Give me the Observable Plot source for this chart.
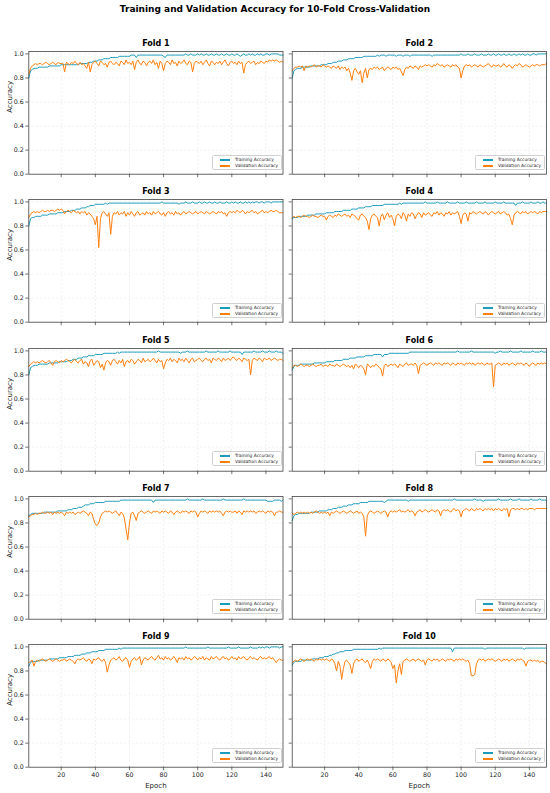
<!DOCTYPE html>
<html><head><meta charset="utf-8">
<script src="https://cdn.jsdelivr.net/npm/d3@7"></script>
<script src="https://cdn.jsdelivr.net/npm/@observablehq/plot@0.6"></script>
<style>
body{margin:0;background:#fff;}
#fig{position:relative;width:550px;height:793px;font-family:"DejaVu Sans",sans-serif;overflow:hidden;}
#title{position:absolute;left:0;width:550px;top:4px;text-align:center;font-weight:bold;font-size:9px;color:#000;}
.panel{position:absolute;}
.legend{position:absolute;width:70px;height:15px;border:0.6px solid #d0d0d0;border-radius:1.5px;background:rgba(255,255,255,0.85);font-size:4.4px;box-sizing:border-box;color:#222;}
.lg{position:absolute;left:0;width:70px;height:6px;}
.lg .sw{position:absolute;left:7px;top:2px;width:10px;height:1.5px;}
.lg .tx{position:absolute;left:22px;top:0;line-height:6px;white-space:nowrap;}
</style></head>
<body>
<div id="fig"><div id="title">Training and Validation Accuracy for 10-Fold Cross-Validation</div></div>
<script>
const FOLD_NAMES = ["Fold 1","Fold 2","Fold 3","Fold 4","Fold 5","Fold 6","Fold 7","Fold 8","Fold 9","Fold 10"];
const X_TICKS = [20,40,60,80,100,120,140];
const Y_TICKS = [0,0.2,0.4,0.6,0.8,1.0];
const SERIES_NAMES = ["Training Accuracy","Validation Accuracy"];
const COLORS = ["#1b9cba","#ff7f0e"];

// accuracy values in percent, epochs 1..150
const T1 = [80,86,87,88,88,88,89,89,89,89,
89,89,90,90,90,90,90,90,90,91,
91,91,91,91,91,91,91,91,91,91,
92,92,92,92,92,93,93,93,94,94,
94,95,95,95,96,96,96,96,97,97,
97,97,97,98,98,98,98,98,98,98,
99,99,99,97,99,99,99,99,99,99,
99,99,99,99,99,99,99,99,99,98,
97,99,99,99,99,99,99,99,99,99,
99,99,100,99,99,100,99,99,99,100,
99,100,99,99,100,99,99,100,99,99,
100,99,99,100,99,99,100,99,99,100,
99,99,100,99,98,99,100,99,99,100,
99,100,99,99,100,99,100,99,99,100,
100,99,100,100,100,100,100,99,99,99];
const V1 = [83,88,90,91,92,91,92,92,91,92,
93,92,91,92,93,92,91,93,92,92,
92,85,93,92,91,93,92,94,92,91,
93,91,92,90,88,93,85,91,93,94,
92,90,94,93,91,92,89,93,94,92,
91,93,92,90,94,93,91,95,92,93,
91,94,87,93,95,92,91,94,93,90,
93,94,92,95,91,93,88,94,92,86,
92,94,93,91,95,92,93,90,94,92,
93,95,92,91,94,93,85,92,94,93,
92,94,91,93,95,92,90,94,93,91,
93,92,94,91,93,95,92,90,93,94,
92,93,91,94,92,93,84,91,93,94,
92,93,94,91,93,92,94,93,92,94,
93,95,94,95,94,95,94,93,94,93];
const T2 = [80,86,87,88,88,88,89,89,89,89,
89,90,90,90,90,90,90,91,91,91,
91,92,92,92,93,93,93,94,94,94,
95,95,95,96,96,96,96,97,97,97,
97,97,98,98,98,98,98,98,98,98,
99,98,99,99,99,98,99,99,99,99,
99,98,99,99,99,98,99,99,99,98,
99,99,99,99,99,99,99,99,99,99,
99,99,98,99,99,99,99,99,99,99,
99,99,99,99,99,99,99,99,99,100,
99,99,99,100,99,99,99,100,99,99,
99,100,99,99,99,100,99,99,100,99,
99,100,99,99,100,99,99,100,99,99,
100,99,99,100,99,100,99,99,100,99,
99,100,100,99,100,100,100,100,100,100];
const V2 = [86,88,89,89,90,89,90,86,90,89,
90,89,90,91,89,90,90,89,91,90,
89,90,89,88,90,89,88,90,87,89,
88,89,86,88,84,78,86,88,85,83,
86,76,84,88,80,87,88,87,89,88,
89,87,88,89,86,88,89,88,87,89,
88,89,87,88,85,82,87,89,88,90,
89,88,90,89,87,90,89,90,91,90,
91,90,89,91,90,92,91,90,91,89,
90,91,90,89,91,90,91,89,88,80,
86,90,91,90,91,89,90,91,90,89,
91,90,89,90,91,92,90,89,91,90,
90,91,89,90,92,90,89,91,90,88,
90,91,90,92,91,89,90,91,90,89,
90,91,90,91,91,90,91,91,91,92];
const T3 = [80,86,87,87,88,88,88,88,89,89,
89,89,90,90,90,90,90,91,91,91,
91,92,92,92,92,93,93,93,94,94,
94,95,95,95,96,96,97,97,97,98,
98,98,98,98,98,99,98,99,99,99,
99,99,99,99,99,99,99,99,99,99,
99,99,99,99,99,99,99,99,99,99,
99,99,99,99,99,99,99,99,100,99,
99,99,99,99,99,99,99,99,98,99,
99,99,100,99,99,99,100,99,99,99,
100,99,99,100,99,99,100,99,99,100,
99,99,100,99,99,99,100,99,99,100,
99,100,99,99,100,99,99,100,99,100,
99,100,99,100,100,99,100,100,99,100,
100,100,99,100,100,100,100,100,100,100];
const V3 = [87,90,91,92,91,92,91,92,93,92,
92,93,92,93,93,92,93,94,93,94,
93,90,92,93,92,91,93,92,91,92,
90,92,91,92,89,91,90,88,86,81,
88,62,86,91,92,90,88,91,73,88,
91,90,92,89,91,90,92,88,91,89,
92,90,88,91,92,89,90,91,89,92,
90,91,89,92,90,91,92,90,89,91,
88,91,92,90,91,89,92,90,91,89,
91,92,90,91,92,91,90,91,92,90,
91,92,91,90,92,91,90,91,92,91,
90,92,91,92,90,91,88,91,92,91,
92,91,93,92,91,93,92,90,92,91,
92,93,91,92,90,91,92,93,91,92,
91,92,93,92,92,93,92,91,91,91];
const T4 = [86,87,87,87,88,88,88,88,88,89,
89,89,89,89,90,90,90,90,90,90,
91,91,91,91,91,92,92,92,92,92,
93,93,93,93,93,94,94,94,94,95,
95,95,95,96,96,96,96,97,97,97,
97,97,97,97,98,98,98,98,98,98,
98,98,98,99,98,99,99,99,99,99,
99,99,99,99,99,99,99,99,100,99,
99,99,99,99,99,100,99,99,99,99,
99,100,99,99,99,99,99,100,99,99,
99,99,100,99,99,99,99,99,100,99,
99,99,99,100,99,99,99,99,99,100,
99,99,99,99,100,99,99,99,99,99,
99,97,99,99,99,100,99,99,99,99,
100,99,99,99,100,99,99,100,99,99];
const V4 = [87,88,87,88,88,87,88,89,88,88,
87,88,89,88,88,87,88,89,88,88,
85,88,89,88,87,89,88,90,89,88,
89,90,88,89,87,90,89,88,86,85,
89,90,88,87,84,77,86,89,90,88,
87,80,88,90,85,89,91,87,89,86,
80,88,90,89,86,91,89,84,90,88,
91,90,86,89,91,90,87,91,89,90,
91,89,88,91,90,92,89,91,90,88,
91,90,92,89,91,90,91,92,88,82,
89,91,90,84,91,90,92,91,90,91,
92,91,90,92,91,89,91,92,91,90,
91,92,90,91,92,91,89,90,86,81,
89,91,92,91,90,92,91,92,90,91,
92,91,92,91,90,92,91,92,92,92];
const T5 = [80,86,87,88,88,88,89,89,89,89,
89,89,90,90,90,90,90,90,91,91,
91,91,91,92,92,92,93,93,93,94,
94,94,95,95,95,96,96,96,96,97,
97,97,97,97,98,98,98,98,98,98,
98,98,99,98,99,99,99,99,99,99,
99,99,99,99,99,99,99,99,99,99,
99,99,99,99,99,99,100,99,99,99,
99,99,99,99,99,99,99,99,99,98,
99,99,99,100,99,99,99,99,99,99,
99,99,99,99,100,99,99,99,99,99,
99,100,99,99,99,99,99,99,100,99,
99,99,99,99,99,97,99,99,99,99,
99,99,100,99,99,99,99,100,99,99,
99,100,99,99,99,100,99,99,99,98];
const V5 = [87,89,90,91,90,91,90,91,92,91,
90,91,92,90,88,91,92,91,90,92,
91,92,93,92,91,90,92,93,91,90,
92,93,89,91,90,87,92,93,88,90,
92,91,86,89,84,90,92,91,88,92,
93,91,89,92,90,93,87,91,92,90,
93,92,89,91,93,92,90,94,91,92,
93,91,92,94,92,90,93,91,92,85,
90,93,92,94,91,93,92,90,94,92,
93,91,94,92,90,93,94,91,92,93,
94,92,91,93,94,92,93,90,94,93,
92,94,93,91,94,92,93,94,92,94,
95,93,92,94,93,91,94,93,92,93,
80,92,94,93,92,94,93,91,94,93,
93,94,92,93,94,93,92,93,93,92];
const T6 = [84,87,88,88,88,89,89,89,89,89,
89,89,89,90,90,90,90,90,90,90,
91,91,91,91,91,92,92,92,92,92,
93,93,93,93,94,94,94,94,95,95,
95,95,95,96,96,96,96,96,97,97,
97,97,97,95,97,97,97,98,98,98,
98,98,98,98,98,98,98,98,98,99,
99,99,99,99,99,99,99,99,99,99,
99,99,99,99,99,99,99,99,99,99,
99,99,99,99,99,99,99,100,99,99,
99,99,99,99,99,100,99,99,99,99,
99,99,99,99,99,99,99,99,99,98,
99,99,100,99,99,99,99,99,100,99,
99,99,99,99,100,99,99,99,99,99,
99,100,99,99,99,99,100,99,99,99];
const V6 = [86,88,88,87,88,89,88,87,88,88,
87,88,89,88,87,88,88,89,87,88,
88,87,89,88,88,87,89,88,87,88,
89,88,87,88,86,88,85,89,88,86,
88,87,85,80,89,88,86,88,87,89,
88,86,85,79,88,89,87,88,89,88,
89,88,86,89,88,87,89,90,88,89,
89,88,90,88,81,88,89,90,89,88,
89,90,89,88,90,89,90,89,88,90,
89,90,89,88,90,89,88,90,89,90,
89,88,90,89,90,89,90,88,89,90,
89,90,89,88,90,89,89,90,70,88,
89,90,89,88,90,89,90,88,89,90,
89,88,90,89,90,89,88,90,89,87,
89,90,89,88,90,89,90,89,90,89];
const T7 = [86,87,88,88,88,88,88,88,88,89,
89,89,89,89,89,89,89,90,90,90,
90,90,90,91,91,91,92,92,92,93,
93,93,94,95,95,95,96,96,96,97,
97,97,97,97,97,98,98,98,98,98,
98,98,98,98,99,99,99,99,99,99,
99,99,99,99,99,99,99,99,99,99,
99,99,99,97,99,99,99,99,99,99,
99,99,99,99,99,99,99,99,99,99,
99,99,99,100,99,99,99,99,99,99,
99,99,100,99,99,99,99,99,99,99,
99,99,99,99,100,99,99,99,99,99,
99,99,99,99,99,99,100,99,99,99,
99,99,99,99,99,99,99,99,99,99,
98,98,98,98,99,99,99,99,98,99];
const V7 = [85,86,87,87,88,87,88,88,89,88,
88,89,88,89,87,89,88,89,88,89,
88,86,89,88,89,88,89,87,88,89,
88,89,90,89,88,86,89,88,83,79,
78,80,85,88,89,90,89,90,89,88,
89,90,88,86,89,88,84,75,66,80,
88,89,86,82,88,89,90,89,88,89,
90,89,88,90,89,90,89,88,90,89,
90,89,88,90,89,87,89,90,89,88,
90,89,90,89,88,90,89,90,89,85,
88,90,89,90,89,88,90,89,90,89,
90,89,90,88,86,89,90,89,90,89,
89,90,88,90,89,87,90,89,90,89,
90,89,90,88,89,90,89,90,89,88,
90,89,90,89,86,89,89,90,89,89];
const T8 = [82,86,87,87,88,88,88,88,88,88,
88,89,89,89,89,89,90,90,90,90,
90,91,91,91,92,92,92,93,93,93,
94,94,94,95,95,95,96,96,96,96,
97,97,97,97,97,98,98,98,98,98,
98,98,98,98,97,98,99,99,99,99,
99,99,99,99,99,99,99,99,98,99,
99,99,99,99,99,99,99,99,99,99,
99,99,99,99,99,99,99,99,99,99,
99,99,99,99,99,100,99,99,99,99,
99,99,99,99,99,99,99,100,99,99,
99,99,98,99,99,99,99,99,99,99,
99,100,99,99,99,99,99,99,100,99,
99,99,99,100,99,99,99,99,99,99,
100,99,99,99,99,100,99,99,99,99];
const V8 = [88,87,88,89,88,89,88,89,88,89,
88,89,88,89,90,89,88,89,88,89,
88,89,86,89,88,89,90,89,88,89,
90,89,88,89,90,89,88,89,90,88,
89,88,85,69,86,89,90,89,88,89,
90,89,88,89,90,89,85,89,90,89,
90,89,90,91,89,90,89,90,91,89,
90,89,86,89,90,91,89,90,91,90,
89,90,91,90,89,91,90,86,90,91,
90,91,90,89,91,92,90,91,90,85,
90,91,92,91,90,92,91,90,92,91,
92,91,90,92,91,92,91,92,90,92,
91,92,91,90,92,91,92,85,91,92,
92,91,92,91,92,92,91,92,91,92,
92,92,91,92,92,92,92,92,92,92];
const T9 = [84,87,88,88,88,88,89,89,89,89,
89,89,90,90,90,90,90,90,91,91,
91,91,91,92,92,92,92,93,93,93,
93,94,94,94,95,95,95,96,96,96,
96,97,97,97,97,98,98,98,98,98,
98,98,98,99,98,99,99,99,99,99,
99,99,99,99,99,99,99,99,99,99,
99,99,99,99,99,99,99,99,99,99,
99,99,99,99,99,99,99,99,99,99,
99,99,100,99,99,99,99,99,99,99,
99,99,99,99,99,100,99,99,99,99,
99,99,99,99,99,99,99,100,99,99,
99,99,99,100,99,99,99,99,99,99,
100,99,99,99,99,100,99,100,99,100,
100,99,100,100,100,100,100,99,100,100];
const V9 = [87,88,89,84,88,89,88,89,90,89,
88,89,90,89,88,89,90,89,88,89,
89,90,88,89,90,89,88,86,89,90,
89,90,91,89,88,90,89,86,90,89,
90,91,89,88,90,87,79,85,89,90,
91,89,90,92,89,88,90,91,89,83,
88,90,91,89,90,92,85,89,91,90,
89,91,92,90,89,91,93,90,91,89,
92,90,91,89,90,92,90,87,91,90,
91,89,92,90,91,89,90,92,91,89,
91,90,92,89,91,90,89,92,90,91,
92,90,89,91,92,90,91,89,90,92,
90,91,89,92,90,91,92,90,89,91,
92,90,91,90,89,91,92,90,91,90,
91,92,90,91,89,87,89,90,89,89];
const T10 = [85,87,88,88,88,88,89,89,89,89,
89,89,90,90,90,90,91,91,91,92,
92,92,93,93,94,94,95,95,96,96,
96,97,97,97,97,97,98,98,98,98,
98,98,98,98,98,98,98,98,98,98,
98,99,98,99,99,99,99,99,99,99,
99,99,99,99,99,99,99,99,99,99,
99,99,99,99,99,99,99,99,99,99,
99,99,99,99,99,99,99,99,99,99,
99,99,99,99,96,99,99,99,99,99,
99,99,99,99,99,99,99,99,99,99,
99,99,99,98,99,99,99,99,99,99,
99,99,99,99,99,99,99,99,99,99,
99,99,99,99,99,99,98,99,99,99,
99,99,99,99,99,99,99,99,99,99];
const V10 = [87,88,89,88,89,90,89,88,89,90,
89,90,89,88,90,89,90,89,90,89,
90,89,88,90,89,86,80,88,84,73,
82,88,89,87,85,78,86,89,90,88,
89,90,88,87,89,86,82,88,90,89,
90,89,88,90,89,88,90,89,87,82,
85,70,80,86,77,88,89,90,89,88,
89,90,88,89,90,89,88,89,85,89,
90,89,88,90,89,90,88,89,90,89,
88,90,89,90,89,88,90,89,90,89,
90,89,88,89,86,76,76,77,86,89,
90,89,90,88,89,90,89,90,89,88,
89,90,89,88,90,89,90,88,89,90,
89,88,90,89,90,89,88,84,88,89,
89,88,89,88,89,87,88,88,87,86];

const TRAIN = [T1,T2,T3,T4,T5,T6,T7,T8,T9,T10];
const VAL = [V1,V2,V3,V4,V5,V6,V7,V8,V9,V10];

const fig = document.getElementById("fig");
const ROW_PITCH = 148.25;
const FRAME_W = 254.2;

FOLD_NAMES.forEach((name, k) => {
  const r = Math.floor(k / 2), c = k % 2;
  const bottomRow = r === 4;
  const left = c === 0 ? 0 : 287;
  const width = c === 0 ? 285 : 263;
  const mLeft = c === 0 ? 28.3 : 4.7;
  const mRight = width - mLeft - FRAME_W;
  const top = 30 + r * ROW_PITCH;
  const height = bottomRow ? 175 : 150;
  const mTop = 21;
  const mBottom = height - 143.7;
  const rows = [];
  TRAIN[k].forEach((v, i) => rows.push({epoch: i + 1, acc: v / 100, s: SERIES_NAMES[0]}));
  VAL[k].forEach((v, i) => rows.push({epoch: i + 1, acc: v / 100, s: SERIES_NAMES[1]}));

  const marks = [
    Plot.gridX(X_TICKS, {stroke: "#d4d4d4", strokeOpacity: 0.7, strokeDasharray: "2,2", strokeWidth: 0.5}),
    Plot.gridY(Y_TICKS, {stroke: "#d4d4d4", strokeOpacity: 0.7, strokeDasharray: "2,2", strokeWidth: 0.5}),
    Plot.line(rows.filter(d => d.s === SERIES_NAMES[0]), {x: "epoch", y: "acc", stroke: COLORS[0], strokeWidth: 1}),
    Plot.line(rows.filter(d => d.s === SERIES_NAMES[1]), {x: "epoch", y: "acc", stroke: COLORS[1], strokeWidth: 1}),
    Plot.axisY(Y_TICKS, {tickSize: 3, tickPadding: 2, fontSize: 6.3, color: "#222", stroke: "#333", strokeWidth: 0.7,
      tickFormat: c === 0 ? d3.format(".1f") : () => "", label: null}),
    Plot.axisX(X_TICKS, {tickSize: 3.5, tickPadding: 2, fontSize: 6.3, color: "#222", stroke: "#333", strokeWidth: 0.7,
      tickFormat: bottomRow ? d => String(d) : () => "", label: null}),
    Plot.text([name], {frameAnchor: "top", dy: -8, lineAnchor: "middle", fontWeight: "bold", fontSize: 8, fill: "#000"}),
    Plot.frame({stroke: "#444", strokeWidth: 0.8})
  ];
  if (c === 0) marks.push(Plot.text(["Accuracy"], {frameAnchor: "left", dx: -19.3, rotate: -90, fontSize: 7, fill: "#222"}));
  if (bottomRow) marks.push(Plot.text(["Epoch"], {frameAnchor: "bottom", dy: 19, lineAnchor: "middle", fontSize: 7, fill: "#222"}));

  const svg = Plot.plot({
    width, height,
    marginLeft: mLeft, marginRight: mRight, marginTop: mTop, marginBottom: mBottom,
    x: {domain: [1, 150]},
    y: {domain: [0, 1.02]},
    style: {fontFamily: "DejaVu Sans, sans-serif", background: "transparent", overflow: "visible"},
    marks
  });
  const wrap = document.createElement("div");
  wrap.className = "panel";
  wrap.style.left = left + "px";
  wrap.style.top = top + "px";
  wrap.appendChild(svg);
  fig.appendChild(wrap);

  // legend (lower right inside frame)
  const frameRight = left + mLeft + FRAME_W;
  const frameBottom = top + 143.7;
  const lg = document.createElement("div");
  lg.className = "legend";
  lg.style.left = Math.round(frameRight - 71) + "px";
  lg.style.top = Math.round(frameBottom - 19) + "px";
  SERIES_NAMES.forEach((s, j) => {
    const item = document.createElement("div");
    item.className = "lg";
    item.style.top = (1 + j * 6) + "px";
    item.innerHTML = `<div class="sw" style="background:${COLORS[j]}"></div><div class="tx">${s}</div>`;
    lg.appendChild(item);
  });
  fig.appendChild(lg);
});
</script>
</body></html>
